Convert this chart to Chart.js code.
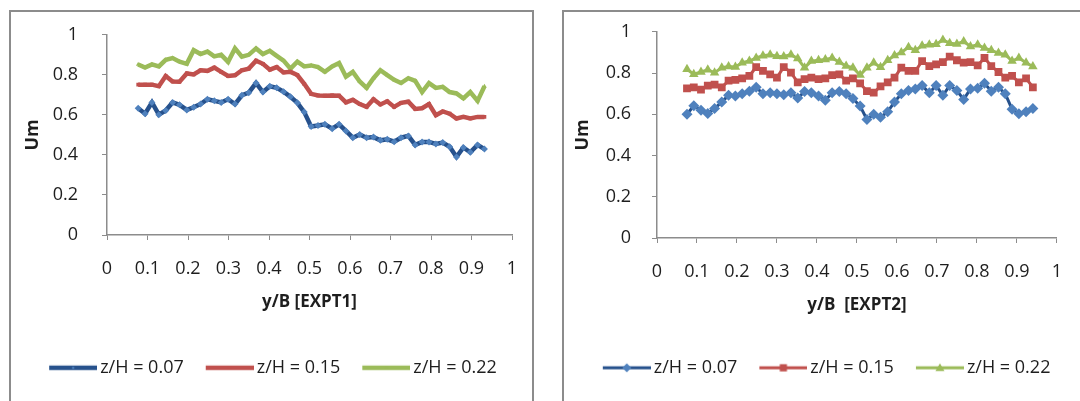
<!DOCTYPE html>
<html>
<head>
<meta charset="utf-8">
<script src="https://cdn.jsdelivr.net/npm/chart.js@4.4.0/dist/chart.umd.min.js"></script>
<style>
  html, body { margin: 0; padding: 0; background: #fff; }
  body { width: 1080px; height: 401px; position: relative; overflow: hidden; }
  .cv { position: absolute; top: 0; }
  .frame { position: absolute; border: 2px solid #8c8c8c; box-sizing: border-box; pointer-events: none; }
</style>
</head>
<body>
<canvas id="expt1" class="cv" style="left:0" width="540" height="401"></canvas>
<canvas id="expt2" class="cv" style="left:540px" width="540" height="401"></canvas>
<div class="frame" style="left:9px;top:10px;width:525px;height:430px"></div>
<div class="frame" style="left:562px;top:10px;width:560px;height:430px"></div>
<script>
// ---------- data
const seriesLabels = ['z/H = 0.07', 'z/H = 0.15', 'z/H = 0.22'];
const xTickLabels = ['0', '0.1', '0.2', '0.3', '0.4', '0.5', '0.6', '0.7', '0.8', '0.9', '1'];
const yTickLabels = ['0', '0.2', '0.4', '0.6', '0.8', '1'];

// EXPT1
const x1 = [0.077, 0.094, 0.111, 0.128, 0.145, 0.162, 0.179, 0.197, 0.214, 0.231,
  0.248, 0.265, 0.282, 0.299, 0.316, 0.333, 0.350, 0.368, 0.385, 0.402,
  0.419, 0.436, 0.453, 0.470, 0.487, 0.504, 0.521, 0.538, 0.556, 0.573,
  0.590, 0.607, 0.624, 0.641, 0.658, 0.675, 0.692, 0.709, 0.726, 0.744,
  0.761, 0.778, 0.795, 0.812, 0.829, 0.846, 0.863, 0.880, 0.897, 0.915, 0.932];
const u1_07 = [0.633, 0.606, 0.662, 0.601, 0.622, 0.662, 0.650, 0.625, 0.638, 0.654,
  0.678, 0.670, 0.662, 0.678, 0.654, 0.698, 0.711, 0.759, 0.714, 0.743,
  0.735, 0.716, 0.690, 0.660, 0.614, 0.542, 0.547, 0.553, 0.531, 0.553,
  0.520, 0.486, 0.502, 0.486, 0.489, 0.473, 0.478, 0.466, 0.486, 0.495,
  0.450, 0.465, 0.465, 0.455, 0.462, 0.441, 0.390, 0.437, 0.413, 0.450, 0.429];
const u1_15 = [0.751, 0.751, 0.751, 0.743, 0.794, 0.767, 0.766, 0.807, 0.802, 0.823,
  0.820, 0.836, 0.815, 0.794, 0.798, 0.823, 0.831, 0.871, 0.855, 0.826,
  0.839, 0.812, 0.815, 0.799, 0.755, 0.705, 0.697, 0.696, 0.697, 0.696,
  0.662, 0.675, 0.654, 0.640, 0.678, 0.652, 0.668, 0.640, 0.660, 0.666,
  0.630, 0.633, 0.654, 0.598, 0.617, 0.606, 0.582, 0.590, 0.582, 0.590, 0.590];
const u1_22 = [0.852, 0.836, 0.852, 0.842, 0.875, 0.884, 0.866, 0.855, 0.923, 0.904,
  0.916, 0.892, 0.900, 0.865, 0.932, 0.891, 0.900, 0.932, 0.904, 0.920,
  0.895, 0.871, 0.831, 0.866, 0.842, 0.847, 0.839, 0.815, 0.842, 0.859,
  0.791, 0.815, 0.767, 0.735, 0.783, 0.823, 0.799, 0.775, 0.759, 0.783,
  0.770, 0.714, 0.759, 0.735, 0.740, 0.714, 0.707, 0.682, 0.714, 0.670, 0.743];

// EXPT2
const x2 = [0.075, 0.092, 0.110, 0.127, 0.144, 0.162, 0.179, 0.196, 0.213, 0.231,
  0.248, 0.265, 0.283, 0.300, 0.317, 0.335, 0.352, 0.369, 0.386, 0.404,
  0.421, 0.438, 0.456, 0.473, 0.490, 0.508, 0.525, 0.542, 0.559, 0.577,
  0.594, 0.611, 0.629, 0.646, 0.663, 0.681, 0.698, 0.715, 0.732, 0.750,
  0.767, 0.784, 0.802, 0.819, 0.836, 0.854, 0.871, 0.888, 0.905, 0.923, 0.940];
const u2_07 = [0.600, 0.641, 0.620, 0.604, 0.628, 0.660, 0.692, 0.689, 0.699, 0.712,
  0.731, 0.699, 0.704, 0.699, 0.695, 0.704, 0.679, 0.710, 0.704, 0.689,
  0.668, 0.704, 0.710, 0.699, 0.676, 0.640, 0.575, 0.600, 0.585, 0.612,
  0.660, 0.699, 0.715, 0.723, 0.739, 0.704, 0.739, 0.692, 0.739, 0.715,
  0.672, 0.723, 0.726, 0.750, 0.712, 0.731, 0.699, 0.625, 0.603, 0.612, 0.628];
const u2_15 = [0.726, 0.731, 0.720, 0.739, 0.744, 0.731, 0.763, 0.767, 0.774, 0.786,
  0.829, 0.810, 0.794, 0.778, 0.829, 0.802, 0.755, 0.771, 0.778, 0.771,
  0.774, 0.790, 0.794, 0.763, 0.774, 0.750, 0.712, 0.705, 0.735, 0.755,
  0.778, 0.826, 0.810, 0.810, 0.858, 0.834, 0.842, 0.853, 0.880, 0.862,
  0.850, 0.853, 0.837, 0.873, 0.834, 0.805, 0.778, 0.786, 0.755, 0.774, 0.731];
const u2_22 = [0.818, 0.794, 0.805, 0.816, 0.802, 0.826, 0.832, 0.829, 0.850, 0.858,
  0.873, 0.884, 0.889, 0.882, 0.880, 0.889, 0.870, 0.826, 0.858, 0.862,
  0.866, 0.873, 0.853, 0.834, 0.826, 0.790, 0.826, 0.850, 0.828, 0.862,
  0.885, 0.900, 0.925, 0.910, 0.932, 0.937, 0.940, 0.960, 0.945, 0.941,
  0.953, 0.929, 0.937, 0.921, 0.910, 0.897, 0.889, 0.858, 0.873, 0.850, 0.832];

// ---------- styles
const FONT = "'Open Sans', sans-serif";
const AXIS = '#8c8c8c';
const TXT = '#1e1e1e';
const colors = [
  { line: '#26518c', mark: '#4f81bd', shape: 'rectRot' },
  { line: '#c0504d', mark: '#c0504d', shape: 'rect' },
  { line: '#9bbb59', mark: '#9bbb59', shape: 'triangle' }
];

function drawMark(g, shape, x, y, r) {
  g.beginPath();
  if (shape === 'rectRot') {
    g.moveTo(x, y - r); g.lineTo(x + r, y); g.lineTo(x, y + r); g.lineTo(x - r, y);
  } else if (shape === 'rect') {
    const s = r * 0.8;
    g.rect(x - s, y - s, 2 * s, 2 * s);
  } else {
    g.moveTo(x, y - r); g.lineTo(x + r, y + r * 0.7); g.lineTo(x - r, y + r * 0.7);
  }
  g.closePath();
  g.fill();
}

// icono de leyenda: línea de 48 px + marcador (la imagen se dibuja centrada en la caja)
const BOX_W = 54, ICON_W = BOX_W + 12, LINE_FROM = BOX_W - 36;
function legendIcon(c, lw, r) {
  const cv = document.createElement('canvas');
  cv.width = ICON_W; cv.height = 16;
  const g = cv.getContext('2d');
  g.strokeStyle = c.line; g.lineWidth = lw;
  g.beginPath(); g.moveTo(LINE_FROM, 8); g.lineTo(ICON_W, 8); g.stroke();
  g.fillStyle = c.mark;
  drawMark(g, c.shape, LINE_FROM + (ICON_W - LINE_FROM) / 2, 8, r);
  return cv;
}

const pts = (xs, ys) => xs.map((x, i) => ({ x: x, y: ys[i] }));

function makeChart(id, geo, xs, series, xTitle) {
  const icons = colors.map(c => legendIcon(c, geo.lineW, geo.iconR));
  return new Chart(document.getElementById(id), {
    type: 'scatter',
    data: {
      datasets: series.map((ys, i) => ({
        label: seriesLabels[i],
        data: pts(xs, ys),
        showLine: true,
        borderColor: colors[i].line,
        borderWidth: geo.lineW,
        backgroundColor: colors[i].mark,
        pointBackgroundColor: colors[i].mark,
        pointBorderColor: colors[i].mark,
        pointBorderWidth: 0,
        pointStyle: colors[i].shape,
        pointRadius: geo.pointR[i],
        tension: 0
      }))
    },
    options: {
      responsive: false,
      animation: false,
      layout: { padding: { left: geo.padL, top: 27, right: geo.padR, bottom: 14.2 } },
      scales: {
        x: {
          type: 'linear', min: 0, max: 1,
          afterFit: s => { s.height = geo.xH; },
          ticks: { stepSize: 0.1, padding: 18, color: TXT, font: { family: FONT, size: 18 },
            callback: (v, i) => xTickLabels[i], maxRotation: 0, autoSkip: false },
          grid: { drawOnChartArea: false, drawTicks: true, tickLength: 5, color: AXIS },
          border: { display: true, color: AXIS, width: 1.5 },
          title: { display: true, text: xTitle, color: TXT, padding: { top: 0, bottom: geo.gap },
            font: { family: FONT, size: 17, weight: 'bold' } }
        },
        y: {
          min: 0, max: 1,
          afterFit: s => { s.width = geo.yW; },
          ticks: { stepSize: 0.2, padding: geo.yPad, color: TXT, font: { family: FONT, size: 18 },
            callback: (v, i) => yTickLabels[i] },
          grid: { drawOnChartArea: false, drawTicks: true, tickLength: 5, color: AXIS },
          border: { display: true, color: AXIS, width: 1.5 },
          title: { display: true, text: 'Um', color: TXT, padding: 0,
            font: { family: FONT, size: 18, weight: 'bold' } }
        }
      },
      plugins: {
        tooltip: { enabled: false },
        legend: {
          position: 'bottom',
          labels: {
            usePointStyle: true, pointStyleWidth: BOX_W, padding: 10, color: TXT,
            font: { family: FONT, size: 18 },
            generateLabels: ch => ch.data.datasets.map((ds, i) => ({
              text: ds.label, pointStyle: icons[i], datasetIndex: i,
              fillStyle: colors[i].mark, strokeStyle: colors[i].line, lineWidth: 0,
              hidden: false, fontColor: TXT
            }))
          }
        }
      }
    }
  });
}

makeChart('expt1',
  { padL: 22, padR: 28, yW: 85, yPad: 24, xH: 113.8, gap: 36, lineW: 4.5, pointR: [3.5, 2.6, 2.6], iconR: 1.5 },
  x1, [u1_07, u1_15, u1_22], 'y/B [EXPT1]');
makeChart('expt2',
  { padL: 32.2, padR: 11, yW: 84.8, yPad: 21, xH: 110.8, gap: 33, lineW: 3, pointR: [5.5, 5.5, 5.5], iconR: 4.5 },
  x2, [u2_07, u2_15, u2_22], 'y/B  [EXPT2]');
</script>
</body>
</html>
